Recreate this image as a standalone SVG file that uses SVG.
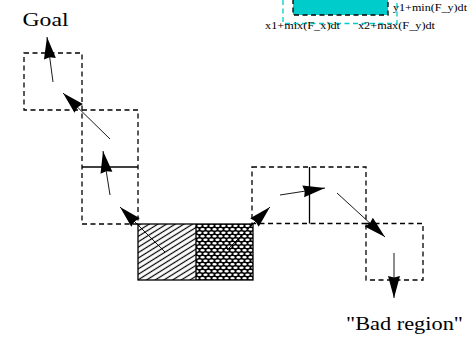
<svg xmlns="http://www.w3.org/2000/svg" width="476" height="338" viewBox="0 0 476 338">
  <style>
    .box{fill:none;stroke:#000;stroke-width:1.3;stroke-dasharray:5 3.5}
    .solid{fill:none;stroke:#000;stroke-width:1.3}
    .arr{fill:none;stroke:#000;stroke-width:0.9;marker-end:url(#head)}
    .cy{fill:none;stroke:#00cccc;stroke-width:1.3;stroke-dasharray:5 3.5}
    .lbl{font-family:"Liberation Serif","Times New Roman",serif;fill:#000}
  </style>
  <defs>
    <marker id="head" markerUnits="userSpaceOnUse" markerWidth="24" markerHeight="14" viewBox="-23 -7 24 14" refX="0" refY="0" orient="auto">
      <path d="M0,0 L-22,-6 L-20.5,0 L-22,6 Z" fill="#000"/>
    </marker>
    <pattern id="diag" patternUnits="userSpaceOnUse" width="10" height="4.6" patternTransform="rotate(-32)">
      <rect width="10" height="4.6" fill="#fff"/>
      <line x1="0" y1="2.3" x2="10" y2="2.3" stroke="#000" stroke-width="1.2"/>
    </pattern>
    <pattern id="mesh" patternUnits="userSpaceOnUse" width="6" height="7">
      <rect width="6" height="7" fill="#000"/>
      <ellipse cx="1.5" cy="1.75" rx="2.2" ry="1.3" fill="#fff"/>
      <ellipse cx="4.5" cy="5.25" rx="2.2" ry="1.3" fill="#fff"/>
      <ellipse cx="-1.5" cy="5.25" rx="2.2" ry="1.3" fill="#fff"/>
      <ellipse cx="7.5" cy="1.75" rx="2.2" ry="1.3" fill="#fff"/>
    </pattern>
  </defs>
  <rect width="476" height="338" fill="#fff"/>

  <g id="reach-set">
    <rect x="293" y="-5" width="95" height="20" fill="#00cccc" stroke="#000" stroke-width="1.3" stroke-dasharray="5 3.5"/>
    <path class="cy" d="M283,0 V23.5 H397 V0"/>
    <text class="lbl" x="393" y="10.5" font-size="10" textLength="74" lengthAdjust="spacingAndGlyphs">y1+min(F_y)dt</text>
    <text class="lbl" x="265" y="29" font-size="10" textLength="75" lengthAdjust="spacingAndGlyphs">x1+mix(F_x)dt</text>
    <text class="lbl" x="358" y="29" font-size="10" textLength="77" lengthAdjust="spacingAndGlyphs">x2+max(F_y)dt</text>
  </g>

  <g id="goal-label">
    <text class="lbl" x="22.5" y="25.5" font-size="19" textLength="46" lengthAdjust="spacingAndGlyphs">Goal</text>
  </g>

  <g id="box1">
    <rect class="box" x="24" y="53" width="58" height="57"/>
  </g>
  <g id="box2">
    <rect class="box" x="82" y="110" width="56" height="114"/>
    <line class="solid" x1="82" y1="167" x2="138" y2="167"/>
  </g>
  <g id="cell">
    <rect x="138" y="224" width="58" height="56" fill="url(#diag)"/>
    <rect x="196" y="224" width="57" height="56" fill="url(#mesh)"/>
    <rect class="solid" x="138" y="224" width="115" height="56" stroke-width="1.5"/>
    <line class="solid" x1="196" y1="224" x2="196" y2="280"/>
  </g>
  <g id="box3">
    <rect class="box" x="252" y="167" width="114" height="56.5"/>
    <line class="solid" x1="309.5" y1="167" x2="309.5" y2="223.5"/>
  </g>
  <g id="box4">
    <rect class="box" x="366" y="223.5" width="57" height="56.5"/>
  </g>

  <g id="bad-label">
    <text class="lbl" x="346" y="330" font-size="18" textLength="117" lengthAdjust="spacingAndGlyphs">"Bad region"</text>
  </g>

  <g id="connectors">
    <line class="arr" x1="53" y1="82" x2="47" y2="37"/>
    <line class="arr" x1="110" y1="139" x2="63" y2="93"/>
    <line class="arr" x1="110" y1="195" x2="103" y2="151"/>
    <line class="arr" x1="165" y1="252" x2="120" y2="207"/>
    <line class="arr" x1="227" y1="250" x2="270" y2="207"/>
    <line class="arr" x1="280" y1="195" x2="325" y2="188"/>
    <line class="arr" x1="337" y1="193" x2="385" y2="237"/>
    <line class="arr" x1="394" y1="253" x2="394" y2="298"/>
  </g>
</svg>
